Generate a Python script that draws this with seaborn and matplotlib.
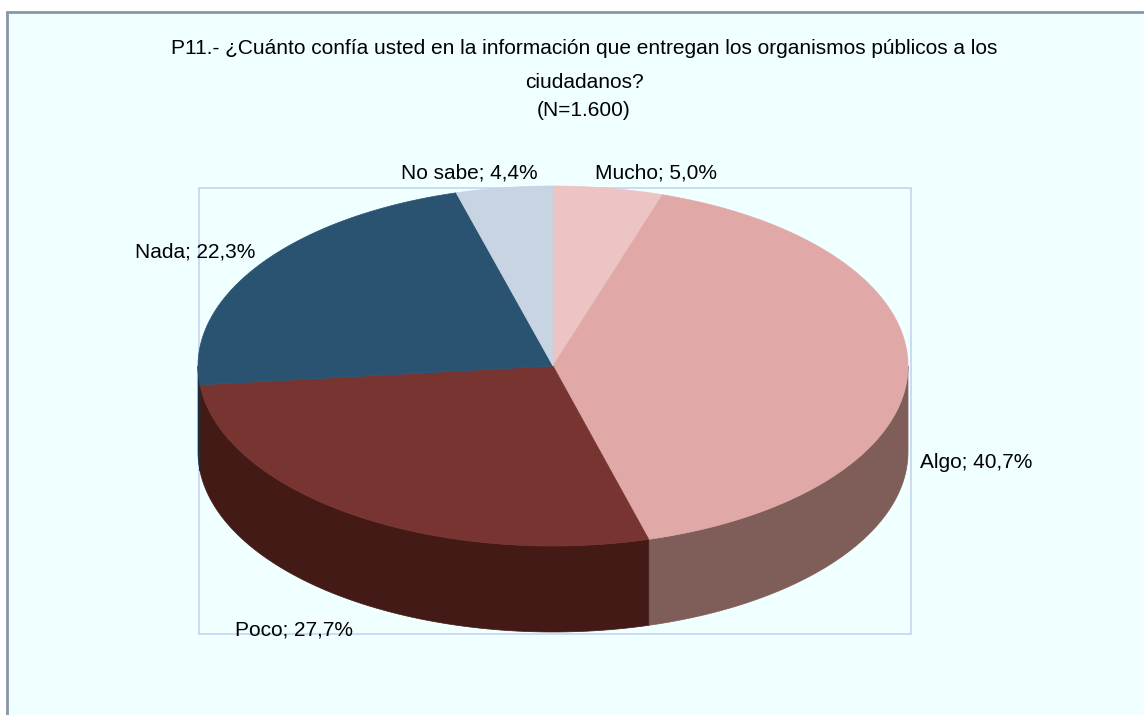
import numpy as np
import seaborn as sns
import matplotlib.pyplot as plt
from matplotlib.patches import Polygon, Rectangle
from matplotlib import font_manager

sns.set_theme(style="white")

# data
categorias = ["Mucho", "Algo", "Poco", "Nada", "No sabe"]
porcentajes = [5.0, 40.7, 27.7, 22.3, 4.4]
etiquetas = ["Mucho; 5,0%", "Algo; 40,7%", "Poco; 27,7%", "Nada; 22,3%", "No sabe; 4,4%"]
colores_top = ["#EDC4C4", "#E0A9A7", "#783430", "#2A5372", "#C8D4E2"]
colores_lado = ["#8A6A6A", "#7F5D59", "#431A15", "#172E40", "#6E7580"]
titulo = ("P11.- ¿Cuánto confía usted en la información que entregan los organismos públicos a los",
          "ciudadanos?", "(N=1.600)")

nombres = {f.name for f in font_manager.fontManager.ttflist}
fam = ["Liberation Sans Narrow", "DejaVu Sans"] if "Liberation Sans Narrow" in nombres else ["Liberation Sans", "DejaVu Sans"]
plt.rcParams["font.family"] = fam
fs = 17 if fam[0] == "Liberation Sans Narrow" else 15

fig = plt.figure(figsize=(11.44, 7.15), dpi=100)
fig.patch.set_facecolor("white")
ax = fig.add_axes([0, 0, 1, 1])
ax.set_xlim(0, 1144)
ax.set_ylim(715, 0)
ax.axis("off")

# fondo del grafico
ax.add_patch(Rectangle((7, 12), 1150, 720, facecolor="#F0FFFF", edgecolor="#8A96A8", lw=2, zorder=0))
ax.add_patch(Rectangle((199, 188), 712, 446, facecolor="none", edgecolor="#C5D3F0", lw=1.2, zorder=1))

cx, cy, rx, ry, prof = 553, 366, 355, 180, 86


def punto(t, dy=0):
    t = np.radians(t)
    return cx + rx * np.sin(t), cy - ry * np.cos(t) + dy


total = sum(porcentajes)
inicio = 0.0
for val, cl in zip(porcentajes, colores_lado):
    fin = inicio + val / total * 360
    # lado visible (mitad frontal)
    a, b = max(inicio, 90), min(fin, 270)
    if b > a:
        ts = np.linspace(a, b, 80)
        arriba = [punto(t) for t in ts]
        abajo = [punto(t, prof) for t in ts[::-1]]
        ax.add_patch(Polygon(arriba + abajo, closed=True, facecolor=cl, edgecolor=cl, lw=0.5, zorder=2))
    inicio = fin

inicio = 0.0
for val, ct in zip(porcentajes, colores_top):
    fin = inicio + val / total * 360
    ts = np.linspace(inicio, fin, 120)
    pts = [(cx, cy)] + [punto(t) for t in ts]
    ax.add_patch(Polygon(pts, closed=True, facecolor=ct, edgecolor=ct, lw=0.5, zorder=3))
    inicio = fin

ax.text(584, 48, titulo[0], ha="center", va="center", fontsize=fs, color="black")
ax.text(584, 82, titulo[1], ha="center", va="center", fontsize=fs, color="black")
ax.text(584, 110, titulo[2], ha="center", va="center", fontsize=fs, color="black")

pos_etiquetas = [(595, 173, "left"), (920, 462, "left"), (235, 630, "left"),
                 (135, 252, "left"), (538, 173, "right")]
for txt, (x, y, ha) in zip(etiquetas, pos_etiquetas):
    ax.text(x, y, txt, ha=ha, va="center", fontsize=fs, color="black", zorder=5)

fig.savefig("out.png", dpi=100)
